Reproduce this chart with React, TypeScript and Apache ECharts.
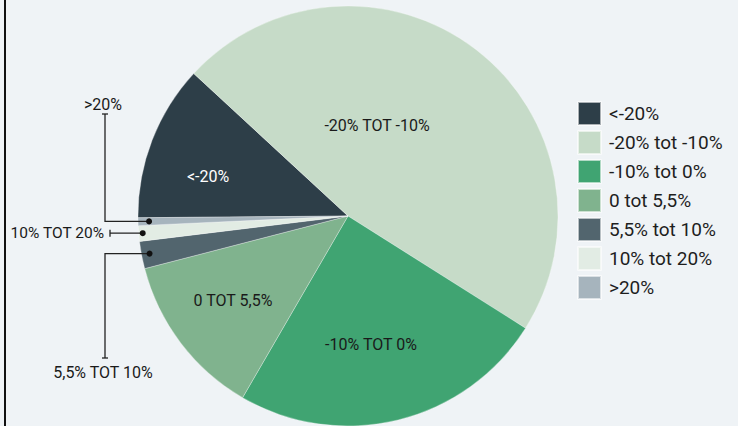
import React, { useEffect, useRef } from "react";
import * as echarts from "echarts";

const categories = ["<-20%", "-20% tot -10%", "-10% tot 0%", "0 tot 5,5%", "5,5% tot 10%", "10% tot 20%", ">20%"];
const sliceLabels = ["<-20%", "-20% TOT -10%", "-10% TOT 0%", "0 TOT 5,5%", "5,5% TOT 10%", "10% TOT 20%", ">20%"];
const values = [12.0, 47.1, 24.4, 12.6, 2.1, 1.2, 0.6];
const colors = ["#2d3e48", "#c6dbc8", "#40a472", "#80b38e", "#52656e", "#e2ece4", "#a6b4bd"];
const labelColors = ["#ffffff", "#1a1a1a", "#1a1a1a", "#1a1a1a"];

const W = 738;
const H = 426;
const CX = 348;
const CY = 216;
const R = 210;
const START = 180.47;
const BG = "#eff3f6";
const INK = "#1a1a1a";
const FONT = "Roboto";

// label placement for the four big slices (label positions only)
const insideLabelPos: Record<number, [number, number]> = {
  0: [208, 176],
  1: [377, 125],
  2: [371, 344],
  3: [233, 300],
};

function midPoint(idx: number, rr: number): [number, number] {
  const total = values.reduce((a, b) => a + b, 0);
  let cum = 0;
  for (let i = 0; i < idx; i++) cum += values[i];
  const mid = cum + values[idx] / 2;
  const ang = ((START - (mid / total) * 360) * Math.PI) / 180;
  return [CX + rr * Math.cos(ang), CY - rr * Math.sin(ang)];
}

export default function App() {
  const ref = useRef<HTMLDivElement>(null);
  useEffect(() => {
    if (!ref.current) return;
    const chart = echarts.init(ref.current, null, { renderer: "svg" });

    const d6 = midPoint(6, 199); // >20%
    const d5 = midPoint(5, 206); // 10% tot 20%
    const d4 = midPoint(4, 202); // 5,5% tot 10%
    const lineStyle = { stroke: "#222222", lineWidth: 1.3, fill: "none" };
    const textStyle = (text: string, align: string, size: number) => ({
      text,
      fill: INK,
      fontSize: size,
      fontFamily: FONT,
      textAlign: align,
      textVerticalAlign: "middle",
    });
    const Z = 100;

    const graphic: any[] = [
      { type: "rect", z: Z, shape: { x: 4, y: 0, width: 2, height: H }, style: { fill: "#111111" }, silent: true },
      // >20%
      { type: "polyline", z: Z, shape: { points: [[d6[0], d6[1]], [105, d6[1]], [105, 114]] }, style: lineStyle, silent: true },
      { type: "line", z: Z, shape: { x1: 102, y1: 114, x2: 108, y2: 114 }, style: lineStyle, silent: true },
      { type: "circle", z: Z, shape: { cx: d6[0], cy: d6[1], r: 3 }, style: { fill: "#111111" }, silent: true },
      { type: "text", z: Z, x: 103, y: 104, style: textStyle(sliceLabels[6], "center", 16), silent: true },
      // 10% tot 20%
      { type: "line", z: Z, shape: { x1: d5[0], y1: d5[1], x2: 110, y2: d5[1] }, style: lineStyle, silent: true },
      { type: "line", z: Z, shape: { x1: 110, y1: d5[1] - 3.5, x2: 110, y2: d5[1] + 3.5 }, style: lineStyle, silent: true },
      { type: "circle", z: Z, shape: { cx: d5[0], cy: d5[1], r: 3 }, style: { fill: "#111111" }, silent: true },
      { type: "text", z: Z, x: 104, y: d5[1], style: textStyle(sliceLabels[5], "right", 15.5), silent: true },
      // 5,5% tot 10%
      { type: "polyline", z: Z, shape: { points: [[d4[0], d4[1]], [105, d4[1]], [105, 358]] }, style: lineStyle, silent: true },
      { type: "line", z: Z, shape: { x1: 102, y1: 358, x2: 108, y2: 358 }, style: lineStyle, silent: true },
      { type: "circle", z: Z, shape: { cx: d4[0], cy: d4[1], r: 3 }, style: { fill: "#111111" }, silent: true },
      { type: "text", z: Z, x: 103, y: 372, style: textStyle(sliceLabels[4], "center", 16), silent: true },
    ];

    chart.setOption({
      animation: false,
      backgroundColor: BG,
      color: colors,
      legend: {
        orient: "vertical",
        left: 577,
        top: 101,
        padding: 0,
        itemWidth: 23,
        itemHeight: 23,
        itemGap: 4,
        icon: "rect",
        selectedMode: false,
        data: categories,
        textStyle: { fontSize: 19, fontFamily: FONT, color: "#1e1e1e", padding: [0, 0, 0, 3] },
      },
      series: [
        {
          type: "pie",
          center: [CX, CY],
          radius: R,
          startAngle: START,
          clockwise: true,
          avoidLabelOverlap: false,
          silent: true,
          itemStyle: { borderWidth: 0.5, borderColor: "rgba(255,255,255,0.6)" },
          label: {
            show: true,
            position: "inside",
            fontSize: 16,
            fontFamily: FONT,
            color: INK,
            formatter: (p: any) => sliceLabels[p.dataIndex],
          },
          labelLine: { show: false },
          labelLayout: (p: any) => {
            const pos = insideLabelPos[p.dataIndex];
            return pos ? { x: pos[0], y: pos[1] } : {};
          },
          data: categories.map((name, i) => ({
            name,
            value: values[i],
            label: i < 4 ? { show: true, color: labelColors[i] } : { show: false },
          })),
        },
      ],
      graphic,
    });
    return () => chart.dispose();
  }, []);
  return <div ref={ref} style={{ position: "fixed", left: 0, top: 0, width: W, height: H }} />;
}
